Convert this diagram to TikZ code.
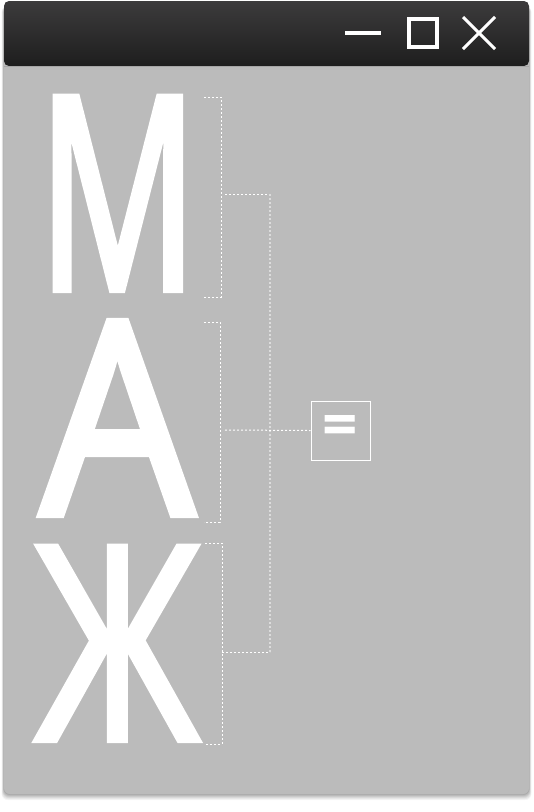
\documentclass[tikz,border=0pt]{standalone}
\usepackage{fontspec}
\setmainfont{Open Sans}
\newfontfamily\letterfont[FakeBold=3]{Open Sans}
\usetikzlibrary{calc}
\definecolor{bodygrey}{HTML}{BBBBBB}
\definecolor{bartop}{HTML}{3C3B3C}
\definecolor{barbot}{HTML}{1E1E1E}
\definecolor{dotlight}{HTML}{DCDCDC}
\tikzset{
  letter/.style={inner sep=0pt, outer sep=0pt, anchor=base west, text=white, font=\letterfont\fontsize{268pt}{268pt}\selectfont},
  dotline/.style={draw=white, line width=1pt, dash pattern=on 2pt off 2pt},
  dotlinelight/.style={draw=dotlight, line width=1.5pt, dash pattern=on 2pt off 2pt},
  btn/.style={draw=white, line width=4pt},
  eqbox/.style={draw=white, line width=1pt, minimum width=59pt, minimum height=59pt, inner sep=0pt, text=white, font=\bfseries\fontsize{62pt}{62pt}\selectfont}
}
\begin{document}
\begin{tikzpicture}[x=1pt,y=-1pt]
\useasboundingbox (0,0) rectangle (534,812);
% shadow
\foreach \o/\a in {6/0.04,5/0.05,4/0.06,3/0.07,2/0.08,1/0.09}{
  \fill[black, opacity=\a, rounded corners=6pt] (4-\o*0.4,6) rectangle (529+\o*0.4,794+\o);
}
% body
\fill[bodygrey, rounded corners=6pt] (4,40) rectangle (529,794);
% title bar
\shade[top color=bartop, bottom color=barbot, rounded corners=5pt] (4,1) -- (4,66) -- (529,66) -- (529,1) -- cycle;
\fill[bodygrey] (4,66) rectangle (529,80);
\draw[gray!70, line width=0.8pt] (4,66.5) -- (529,66.5);
% buttons
\coordinate (minL) at (345,33);
\coordinate (minR) at (381,33);
\draw[btn] (minL) -- (minR);
\coordinate (maxA) at (409,19);
\coordinate (maxB) at (437,47);
\draw[btn] (maxA) rectangle (maxB);
\coordinate (clA) at (463,17);
\coordinate (clB) at (495,49);
\coordinate (clC) at (463,49);
\coordinate (clD) at (495,17);
\draw[draw=white, line width=3pt] (clA) -- (clB) (clC) -- (clD);
% letters
\node[letter] (mL) at (38,289) {\scalebox{0.66}[1]{М}};
\node[letter] (aL) at (41,514) {\scalebox{0.90}[1]{А}};
\node[letter] (zL) at (37,739) {\scalebox{0.71}[1]{Ж}};
% brackets
\coordinate (m1) at (204,97);  \coordinate (m2) at (221,97);
\coordinate (m3) at (221,297); \coordinate (m4) at (204,297);
\draw[dotline] (m1) -- (m2) -- (m3) -- (m4);
\coordinate (a1) at (204,322); \coordinate (a2) at (220,322);
\coordinate (a3) at (220,522); \coordinate (a4) at (204,522);
\draw[dotline] (a1) -- (a2) -- (a3) -- (a4);
\coordinate (z1) at (205,543); \coordinate (z2) at (222,543);
\coordinate (z3) at (222,744); \coordinate (z4) at (205,744);
\draw[dotline] (z1) -- (z2) -- (z3) -- (z4);
% joins
\coordinate (mS) at (225,194); \coordinate (jT) at (270,194);
\coordinate (zS) at (222,652); \coordinate (jB) at (270,652);
\draw[dotline] (mS) -- (jT);
\draw[dotline] (zS) -- (jB);
\draw[dotlinelight] (jT) -- (jB);
% result
\node[eqbox] (eq) at (340.5,430.5) {=};
\coordinate (aS) at (225,430);
\draw[dotline] (aS) -- (eq.west);
\end{tikzpicture}
\end{document}
